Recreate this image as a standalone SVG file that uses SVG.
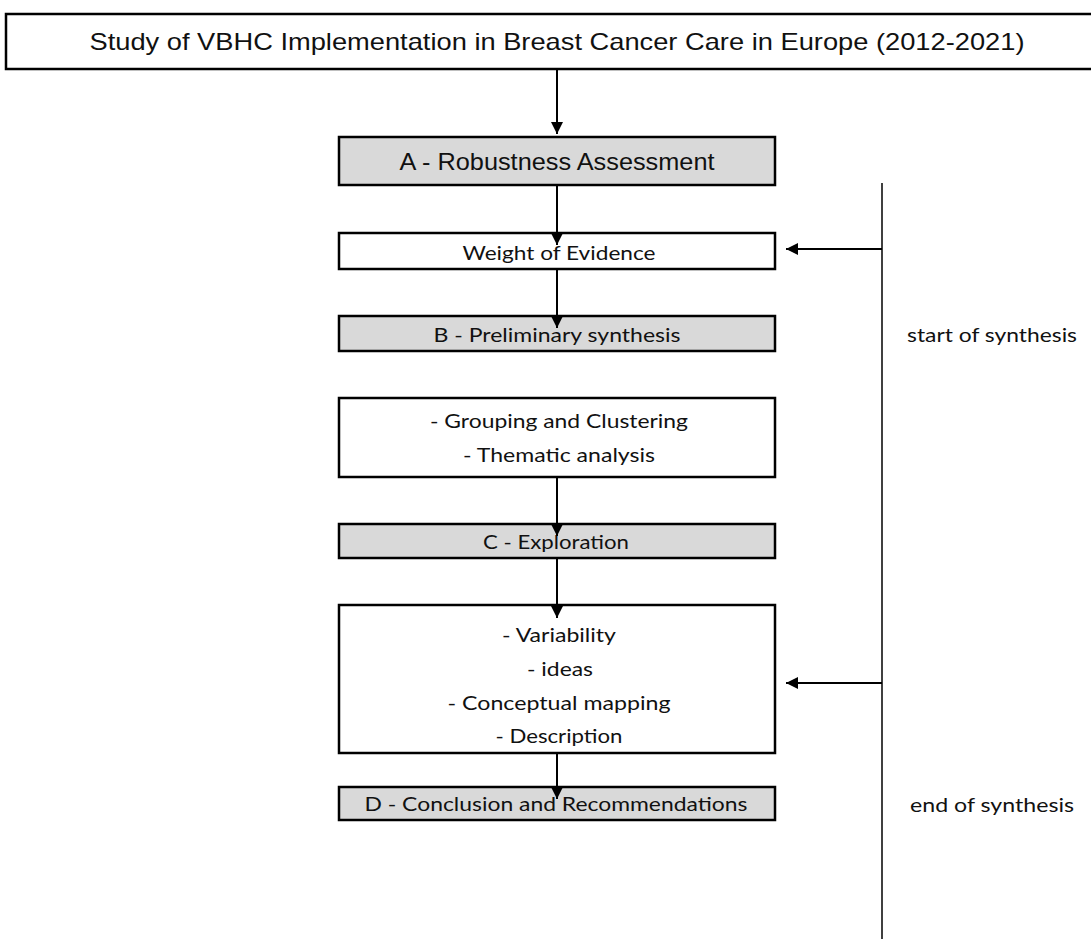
<svg xmlns="http://www.w3.org/2000/svg" width="1091" height="939" viewBox="0 0 1091 939">
  <style>
    .box { fill: #ffffff; stroke: #000000; stroke-width: 2.5; }
    .step { fill: #d9d9d9; stroke: #000000; stroke-width: 2.5; }
    .title { font-family: "Liberation Sans", Arial, sans-serif; font-size: 24px; fill: #111111; text-anchor: middle; }
    .lbl { font-family: Lato, "Open Sans", sans-serif; font-size: 20px; fill: #111111; text-anchor: middle; }
    .side { font-family: Lato, "Open Sans", sans-serif; font-size: 20px; fill: #111111; }
    .conn { stroke: #000000; stroke-width: 2; fill: none; }
    .rail { stroke: #000000; stroke-width: 1.5; fill: none; }
  </style>
  <defs>
    <marker id="arrow" viewBox="0 0 12 12" refX="12" refY="6" markerWidth="12" markerHeight="12" markerUnits="userSpaceOnUse" orient="auto">
      <path d="M0,0 L12,6 L0,12 Z" fill="#000000"/>
    </marker>
  </defs>

  <rect width="1091" height="939" fill="#ffffff"/>

  <!-- heading box -->
  <g id="title">
    <rect class="box" x="6" y="14" width="1090" height="55"/>
    <text class="title" x="557" y="50" textLength="935" lengthAdjust="spacingAndGlyphs">Study of VBHC Implementation in Breast Cancer Care in Europe (2012-2021)</text>
  </g>

  <!-- main column of steps -->
  <g id="robustness">
    <rect class="step" x="339" y="137" width="436" height="48"/>
    <text class="title" x="557" y="170" textLength="315" lengthAdjust="spacingAndGlyphs">A - Robustness Assessment</text>
  </g>

  <g id="weight-of-evidence">
    <rect class="box" x="339" y="233" width="436" height="36"/>
    <text class="lbl" x="559" y="260" textLength="193" lengthAdjust="spacingAndGlyphs">Weight of Evidence</text>
  </g>

  <g id="preliminary-synthesis">
    <rect class="step" x="339" y="316" width="436" height="35"/>
    <text class="lbl" x="557" y="342" textLength="247" lengthAdjust="spacingAndGlyphs">B - Preliminary synthesis</text>
  </g>

  <g id="grouping">
    <rect class="box" x="339" y="398" width="436" height="79"/>
    <text class="lbl" x="559" y="428" textLength="258" lengthAdjust="spacingAndGlyphs">- Grouping and Clustering</text>
    <text class="lbl" x="559" y="462" textLength="192" lengthAdjust="spacingAndGlyphs">- Thematic analysis</text>
  </g>

  <g id="exploration">
    <rect class="step" x="339" y="524" width="436" height="34"/>
    <text class="lbl" x="556" y="549" textLength="146" lengthAdjust="spacingAndGlyphs">C - Exploration</text>
  </g>

  <g id="variability">
    <rect class="box" x="339" y="605" width="436" height="148"/>
    <text class="lbl" x="559" y="642" textLength="114" lengthAdjust="spacingAndGlyphs">- Variability</text>
    <text class="lbl" x="560" y="676" textLength="66" lengthAdjust="spacingAndGlyphs">- ideas</text>
    <text class="lbl" x="559" y="710" textLength="223" lengthAdjust="spacingAndGlyphs">- Conceptual mapping</text>
    <text class="lbl" x="559" y="743" textLength="127" lengthAdjust="spacingAndGlyphs">- Description</text>
  </g>

  <g id="conclusion">
    <rect class="step" x="339" y="787" width="436" height="33"/>
    <text class="lbl" x="556" y="811" textLength="383" lengthAdjust="spacingAndGlyphs">D - Conclusion and Recommendations</text>
  </g>

  <!-- labels beside the synthesis rail -->
  <g id="synthesis-labels">
    <text class="side" x="907" y="342" textLength="170" lengthAdjust="spacingAndGlyphs">start of synthesis</text>
    <text class="side" x="910" y="812" textLength="164" lengthAdjust="spacingAndGlyphs">end of synthesis</text>
  </g>

  <g id="connectors">
    <line class="conn" x1="557" y1="70" x2="557" y2="134" marker-end="url(#arrow)"/>
    <line class="conn" x1="557" y1="186" x2="557" y2="245" marker-end="url(#arrow)"/>
    <line class="conn" x1="557" y1="270" x2="557" y2="328" marker-end="url(#arrow)"/>
    <line class="conn" x1="557" y1="478" x2="557" y2="536" marker-end="url(#arrow)"/>
    <line class="conn" x1="557" y1="559" x2="557" y2="618" marker-end="url(#arrow)"/>
    <line class="conn" x1="557" y1="754" x2="557" y2="799" marker-end="url(#arrow)"/>
    <line class="rail" x1="882" y1="183" x2="882" y2="939"/>
    <line class="conn" x1="882" y1="249" x2="786" y2="249" marker-end="url(#arrow)"/>
    <line class="conn" x1="882" y1="683" x2="786" y2="683" marker-end="url(#arrow)"/>
  </g>
</svg>
